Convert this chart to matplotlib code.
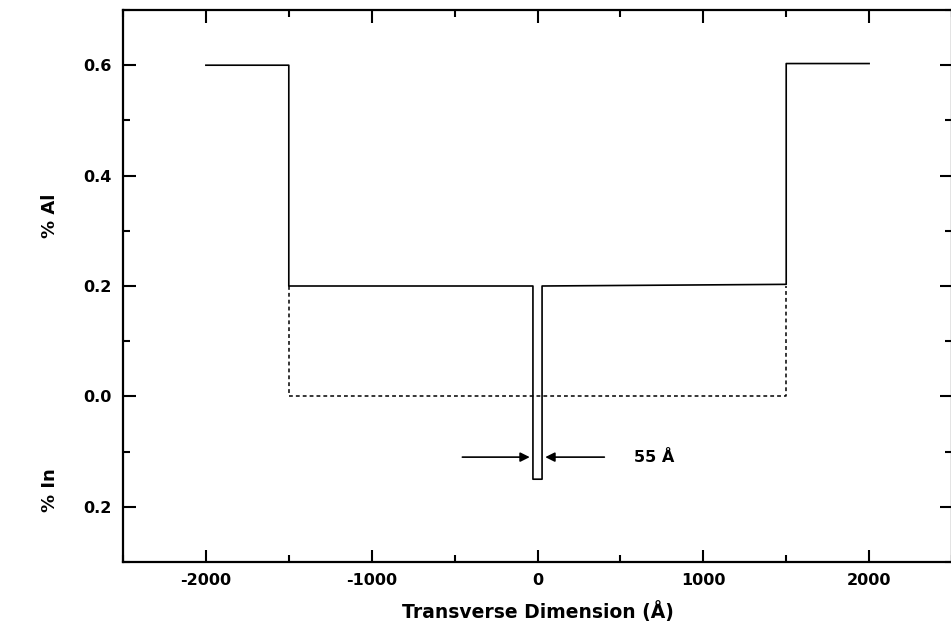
import matplotlib
matplotlib.use("Agg")
import matplotlib.pyplot as plt
from matplotlib.ticker import MultipleLocator, FuncFormatter

plt.rcParams["font.family"] = ["DejaVu Sans"]
plt.rcParams["axes.unicode_minus"] = False

# composition profile (solid = Al, dotted = In reference level)
al_x = [-2000, -1500, -1500, -27.5, -27.5, 27.5, 27.5, 1500, 1500, 2000]
al_y = [0.6, 0.6, 0.2, 0.2, -0.15, -0.15, 0.2, 0.203, 0.603, 0.603]
in_x = [-1500, -1500, 1500, 1500]
in_y = [0.2, 0.0, 0.0, 0.2]

fig = plt.figure(figsize=(9.51, 6.3), dpi=100)
ax = fig.add_axes([123 / 951, 68 / 630, 829 / 951, 552 / 630])

ax.plot(al_x, al_y, color="black", lw=1.2)
ax.plot(in_x, in_y, color="black", lw=1.1, linestyle=(0, (2.5, 2)))

ax.set_xlim(-2500, 2500)
ax.set_ylim(-0.3, 0.7)

ax.xaxis.set_major_locator(MultipleLocator(1000))
ax.xaxis.set_minor_locator(MultipleLocator(500))
ax.yaxis.set_major_locator(MultipleLocator(0.2))
ax.yaxis.set_minor_locator(MultipleLocator(0.1))
ax.yaxis.set_major_formatter(FuncFormatter(lambda v, p: f"{abs(v):.1f}"))

ax.tick_params(which="both", direction="in", top=True, right=True, width=1.5)
ax.tick_params(which="major", length=9, labelsize=11.5, pad=8)
ax.tick_params(which="minor", length=5)
for s in ax.spines.values():
    s.set_linewidth(1.6)

for lab in ax.get_xticklabels() + ax.get_yticklabels():
    lab.set_fontweight("bold")

# 55 A width markers
ax.annotate("", xy=(-30, -0.11), xytext=(-470, -0.11),
            arrowprops=dict(arrowstyle="-|>", color="black", lw=1.2, mutation_scale=14))
ax.annotate("", xy=(30, -0.11), xytext=(420, -0.11),
            arrowprops=dict(arrowstyle="-|>", color="black", lw=1.2, mutation_scale=14))
ax.text(582, -0.11, "55 Å", fontsize=11.5, fontweight="bold", va="center", ha="left")

ax.set_xlabel("Transverse Dimension (Å)", fontsize=13.5, fontweight="bold", labelpad=9)
fig.text(50 / 951, 1 - 216 / 630, "% Al", rotation=90, fontsize=13, fontweight="bold",
         ha="center", va="center")
fig.text(50 / 951, 1 - 490 / 630, "% In", rotation=90, fontsize=13, fontweight="bold",
         ha="center", va="center")

fig.savefig("out.png", dpi=100)
